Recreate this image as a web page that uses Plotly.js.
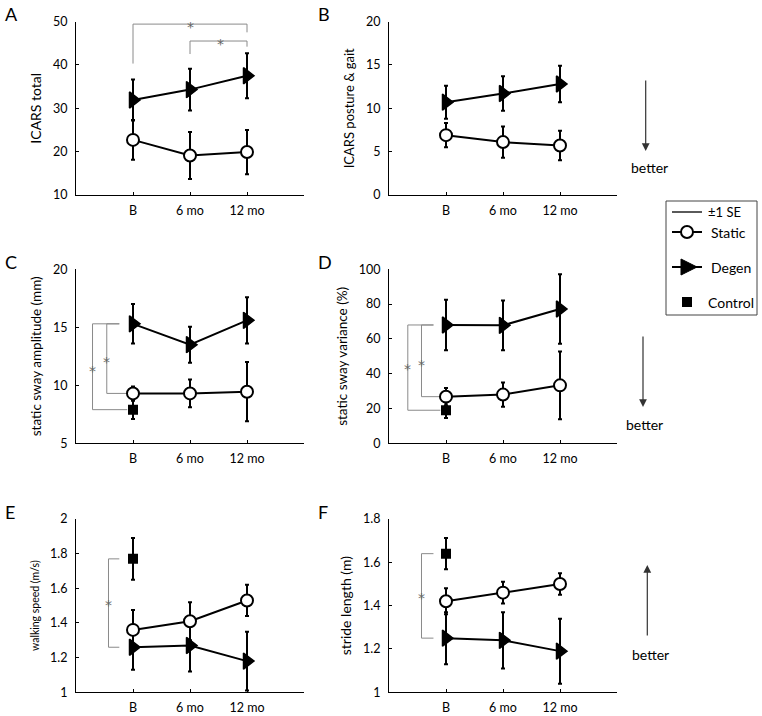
<!DOCTYPE html>
<html><head><meta charset="utf-8">
<script src="https://cdn.plot.ly/plotly-3.0.1.min.js"></script>
<style>html,body{margin:0;padding:0;background:#fff}#chart{width:762px;height:716px}</style>
</head><body><div id="chart"></div>
<script>
// ---- data ----
const timepoints = ["B", "6 mo", "12 mo"];
const timeX = [1, 2, 3];

const icarsTotalStatic = [22.7, 19.1, 19.9];
const icarsTotalStaticSE = [4.6, 5.4, 5.1];
const icarsTotalDegen = [31.9, 34.3, 37.5];
const icarsTotalDegenSE = [4.7, 4.8, 5.2];

const icarsGaitStatic = [6.9, 6.1, 5.7];
const icarsGaitStaticSE = [1.4, 1.8, 1.7];
const icarsGaitDegen = [10.7, 11.7, 12.8];
const icarsGaitDegenSE = [1.9, 2.0, 2.1];

const swayAmpStatic = [9.3, 9.3, 9.45];
const swayAmpStaticSE = [0.6, 1.2, 2.55];
const swayAmpDegen = [15.3, 13.5, 15.6];
const swayAmpDegenSE = [1.7, 1.55, 2.0];
const swayAmpControl = [7.9];
const swayAmpControlSE = [0.8];

const swayVarStatic = [26.8, 28.0, 33.3];
const swayVarStaticSE = [5.0, 7.0, 19.5];
const swayVarDegen = [68.0, 67.8, 77.2];
const swayVarDegenSE = [14.5, 14.3, 20.0];
const swayVarControl = [19.0];
const swayVarControlSE = [4.5];

const walkSpeedStatic = [1.36, 1.41, 1.53];
const walkSpeedStaticSE = [0.115, 0.11, 0.09];
const walkSpeedDegen = [1.26, 1.27, 1.18];
const walkSpeedDegenSE = [0.13, 0.15, 0.17];
const walkSpeedControl = [1.77];
const walkSpeedControlSE = [0.12];

const strideStatic = [1.42, 1.46, 1.50];
const strideStaticSE = [0.06, 0.05, 0.05];
const strideDegen = [1.25, 1.24, 1.19];
const strideDegenSE = [0.12, 0.13, 0.15];
const strideControl = [1.64];
const strideControlSE = [0.072];

const panelLetters = ["A", "B", "C", "D", "E", "F"];
const yTitles = ["ICARS total", "ICARS posture & gait", "static sway amplitude (mm)",
                 "static sway variance (%)", "walking speed (m/s)", "stride length (m)"];
const yRanges = [[10, 50], [0, 20], [5, 20], [0, 100], [1, 2], [1, 1.8]];
const yDticks = [10, 5, 5, 20, 0.2, 0.2];
const legendLabels = ["\u00b11 SE", "Static", "Degen", "Control"];

// ---- layout geometry ----
const W = 762, H = 716;
const px = v => v / W;
const py = v => 1 - v / H;
const colX = [[76, 304], [389, 617]];
const rowY = [[21.5, 195], [269.3, 443.3], [519, 692.3]];

const panels = [
  {s: icarsTotalStatic, sse: icarsTotalStaticSE, d: icarsTotalDegen, dse: icarsTotalDegenSE},
  {s: icarsGaitStatic, sse: icarsGaitStaticSE, d: icarsGaitDegen, dse: icarsGaitDegenSE},
  {s: swayAmpStatic, sse: swayAmpStaticSE, d: swayAmpDegen, dse: swayAmpDegenSE, c: swayAmpControl, cse: swayAmpControlSE},
  {s: swayVarStatic, sse: swayVarStaticSE, d: swayVarDegen, dse: swayVarDegenSE, c: swayVarControl, cse: swayVarControlSE},
  {s: walkSpeedStatic, sse: walkSpeedStaticSE, d: walkSpeedDegen, dse: walkSpeedDegenSE, c: walkSpeedControl, cse: walkSpeedControlSE},
  {s: strideStatic, sse: strideStaticSE, d: strideDegen, dse: strideDegenSE, c: strideControl, cse: strideControlSE}
];
const titleSizes = [14, 13, 13.5, 13.5, 10.5, 14];

const FONT = "Lato, 'Noto Sans', sans-serif";
const BR = "#8a8a8a";

const traces = [];
const layout = {
  width: W, height: H, margin: {l: 0, r: 0, t: 0, b: 0},
  paper_bgcolor: "#fff", plot_bgcolor: "#fff", showlegend: false,
  font: {family: FONT, color: "#000", size: 12},
  shapes: [], annotations: []
};

function errObj(arr) {
  return {type: "data", array: arr, visible: true, color: "#000", thickness: 2, width: 2};
}

panels.forEach((p, i) => {
  const n = i + 1;
  const xa = "x" + (n === 1 ? "" : n), ya = "y" + (n === 1 ? "" : n);
  const col = i % 2, row = Math.floor(i / 2);
  layout["xaxis" + (n === 1 ? "" : n)] = {
    domain: [px(colX[col][0]), px(colX[col][1])], anchor: ya,
    range: [0, 4], tickvals: timeX, ticktext: timepoints,
    showline: true, linecolor: "#000", linewidth: 1, mirror: false,
    ticks: "inside", ticklen: 3, tickcolor: "#000", showgrid: false, zeroline: false,
    tickfont: {size: 12.5, family: FONT}, ticklabelstandoff: 4, fixedrange: true
  };
  layout["yaxis" + (n === 1 ? "" : n)] = {
    domain: [py(rowY[row][1]), py(rowY[row][0])], anchor: xa,
    range: yRanges[i], dtick: yDticks[i], tick0: yRanges[i][0],
    showline: true, linecolor: "#000", linewidth: 1,
    ticks: "inside", ticklen: 3, tickcolor: "#000", showgrid: false, zeroline: false,
    tickfont: {size: 12.5, family: FONT}, ticklabelstandoff: 5,
    title: {text: yTitles[i], font: {size: titleSizes[i], family: FONT}, standoff: 8}, fixedrange: true
  };
  traces.push({
    x: timeX, y: p.d, xaxis: xa, yaxis: ya, mode: "lines+markers", name: "Degen",
    error_y: errObj(p.dse), line: {color: "#000", width: 2},
    marker: {symbol: "triangle-right", size: 14, color: "#000", line: {color: "#000", width: 1.5}}
  });
  traces.push({
    x: timeX, y: p.s, xaxis: xa, yaxis: ya, mode: "lines+markers", name: "Static",
    error_y: errObj(p.sse), line: {color: "#000", width: 2},
    marker: {symbol: "circle", size: 12, color: "#fff", line: {color: "#000", width: 2}}
  });
  if (p.c) {
    traces.push({
      x: timeX.slice(0, 1), y: p.c, xaxis: xa, yaxis: ya, mode: "markers", name: "Control",
      error_y: errObj(p.cse),
      marker: {symbol: "square", size: 10, color: "#000"}
    });
  }
  // panel letter
  layout.annotations.push({
    text: panelLetters[i], xref: "paper", yref: "paper", x: px(colX[col][0] - 73), y: py(rowY[row][0] - 7),
    xanchor: "left", yanchor: "middle", showarrow: false, font: {size: 18, family: FONT}
  });
});

// significance brackets
function bracket(axN, pts) {
  const sfx = axN === 1 ? "" : axN;
  const d = pts.map((q, k) => (k ? "L" : "M") + q[0] + "," + q[1]).join(" ");
  layout.shapes.push({type: "path", xref: "x" + sfx, yref: "y" + sfx, path: d,
    line: {color: BR, width: 1}, layer: "below"});
}
function star(axN, x, y) {
  const sfx = axN === 1 ? "" : axN;
  layout.annotations.push({text: "*", xref: "x" + sfx, yref: "y" + sfx, x: x, y: y,
    showarrow: false, font: {size: 14, color: "#666", family: "'DejaVu Sans', sans-serif"}, bgcolor: "rgba(0,0,0,0)",
    borderpad: 0, yshift: -3});
}
// A
bracket(1, [[1, 40.3], [1, 49.4], [3, 49.4], [3, 47.5]]);
bracket(1, [[2, 42.5], [2, 45.5], [3, 45.5], [3, 44.2]]);
star(1, 2, 49.4); star(1, 2.53, 45.5);
// C
bracket(3, [[0.76, swayAmpDegen[0]], [0.29, swayAmpDegen[0]], [0.29, swayAmpControl[0]], [0.9, swayAmpControl[0]]]);
bracket(3, [[0.76, swayAmpDegen[0]], [0.54, swayAmpDegen[0]], [0.54, swayAmpStatic[0]], [0.9, swayAmpStatic[0]]]);
star(3, 0.29, 11.5); star(3, 0.54, 12.3);
// D
bracket(4, [[0.78, swayVarDegen[0]], [0.33, swayVarDegen[0]], [0.33, swayVarControl[0]], [0.9, swayVarControl[0]]]);
bracket(4, [[0.78, swayVarDegen[0]], [0.57, swayVarDegen[0]], [0.57, swayVarStatic[0]], [0.9, swayVarStatic[0]]]);
star(4, 0.33, 44.2); star(4, 0.57, 46.5);
// E
bracket(5, [[0.76, walkSpeedControl[0]], [0.57, walkSpeedControl[0]], [0.57, walkSpeedDegen[0]], [0.76, walkSpeedDegen[0]]]);
star(5, 0.57, 1.52);
// F
bracket(6, [[0.78, strideControl[0]], [0.57, strideControl[0]], [0.57, strideDegen[0]], [0.78, strideDegen[0]]]);
star(6, 0.57, 1.45);

// legend box (drawn manually)
layout.shapes.push({type: "rect", xref: "paper", yref: "paper", x0: px(666), x1: px(757), y0: py(201), y1: py(315),
  line: {color: "#444", width: 1}, fillcolor: "rgba(0,0,0,0)"});
layout.shapes.push({type: "line", xref: "paper", yref: "paper", x0: px(672), x1: px(702), y0: py(212), y1: py(212),
  line: {color: "#000", width: 1.3}});
layout.shapes.push({type: "line", xref: "paper", yref: "paper", x0: px(672), x1: px(702), y0: py(232), y1: py(232),
  line: {color: "#000", width: 2}});
layout.shapes.push({type: "circle", xref: "paper", yref: "paper", x0: px(681), x1: px(693), y0: py(226), y1: py(238),
  line: {color: "#000", width: 2}, fillcolor: "#fff"});
layout.shapes.push({type: "line", xref: "paper", yref: "paper", x0: px(672), x1: px(702), y0: py(267), y1: py(267),
  line: {color: "#000", width: 2}});
layout.shapes.push({type: "path", xref: "paper", yref: "paper",
  path: "M" + px(681) + "," + py(259) + " L" + px(697) + "," + py(267) + " L" + px(681) + "," + py(275) + " Z",
  line: {color: "#000", width: 1}, fillcolor: "#000"});
layout.shapes.push({type: "rect", xref: "paper", yref: "paper", x0: px(682), x1: px(692), y0: py(297), y1: py(307),
  line: {color: "#000", width: 0}, fillcolor: "#000"});
const legY = [212, 232, 267, 302];
const legX = [706, 709, 709, 706];
legendLabels.forEach((t, k) => {
  layout.annotations.push({text: t, xref: "paper", yref: "paper", x: px(legX[k]), y: py(legY[k]),
    xanchor: "left", yanchor: "middle", showarrow: false, font: {size: k === 0 ? 13 : 14, family: FONT}});
});

// "better" arrows
function arrow(x, yHead, len) {
  layout.annotations.push({text: "", xref: "paper", yref: "paper", x: px(x), y: py(yHead),
    ax: 0, ay: len, showarrow: true, arrowhead: 2, arrowsize: 1.3, arrowwidth: 1.2, arrowcolor: "#333"});
}
function betterText(x, y) {
  layout.annotations.push({text: "better", xref: "paper", yref: "paper", x: px(x), y: py(y),
    xanchor: "center", yanchor: "middle", showarrow: false, font: {size: 14, family: FONT}});
}
arrow(645.7, 151, -72); betterText(649, 168);
arrow(643, 407, -72); betterText(644, 424);
arrow(647.3, 565, 72); betterText(650, 654);

Plotly.newPlot("chart", traces, layout, {displayModeBar: false, staticPlot: true});
</script>
</body></html>
